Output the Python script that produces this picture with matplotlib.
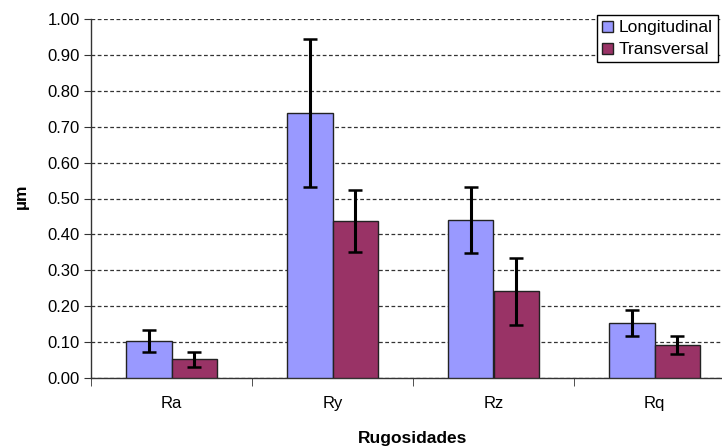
import matplotlib
matplotlib.use("Agg")
import matplotlib.pyplot as plt
import numpy as np

categories = ["Ra", "Ry", "Rz", "Rq"]
longitudinal = [0.103, 0.739, 0.440, 0.152]
longitudinal_err = [0.030, 0.206, 0.092, 0.037]
transversal = [0.051, 0.437, 0.241, 0.090]
transversal_err = [0.022, 0.087, 0.094, 0.025]
yticks = [0.0, 0.1, 0.2, 0.3, 0.4, 0.5, 0.6, 0.7, 0.8, 0.9, 1.0]

plt.rcParams['font.family'] = ['Liberation Sans', 'DejaVu Sans']

W, H = 722, 446
fig = plt.figure(figsize=(W / 100, H / 100), dpi=100)
ax = fig.add_axes([91 / W, (H - 377.7) / H, 644 / W, 358.4 / H])

x = np.arange(len(categories))
bw = 0.285
errkw = dict(ecolor='black', elinewidth=2.2, capsize=5, capthick=1.8)
ax.bar(x - bw / 2, longitudinal, bw, yerr=longitudinal_err, color='#9999FF',
       edgecolor='#222222', linewidth=1, label='Longitudinal', error_kw=errkw, zorder=3)
ax.bar(x + bw / 2, transversal, bw, yerr=transversal_err, color='#993366',
       edgecolor='#222222', linewidth=1, label='Transversal', error_kw=errkw, zorder=3)

ax.set_xlim(-0.5, len(categories) - 0.5)
ax.set_ylim(0, 1.0)
ax.set_yticks(yticks)
ax.set_yticklabels([f"{v:.2f}" for v in yticks], fontsize=12)
ax.set_xticks(x)
ax.set_xticklabels(categories, fontsize=12)
ax.set_xticks(np.arange(len(categories) + 1) - 0.5, minor=True)
ax.tick_params(axis='x', which='major', length=0, pad=13)
ax.tick_params(axis='x', which='minor', length=6, direction='out', color='#333333')
ax.tick_params(axis='y', length=5, direction='out', color='#333333', pad=3)

ax.grid(axis='y', color='#333333', linestyle=(0, (3, 2)), linewidth=0.9, zorder=0)
ax.set_axisbelow(True)
for s in ['top', 'right']:
    ax.spines[s].set_visible(False)
for s in ['left', 'bottom']:
    ax.spines[s].set_color('#333333')
    ax.spines[s].set_linewidth(1)

fig.text(21.5 / W, 1 - 196 / H, 'µm', rotation=90, ha='center', va='center',
         fontsize=12.5, fontweight='bold')
fig.text(413 / W, 1 - 443 / H, 'Rugosidades', ha='center', va='baseline',
         fontsize=12.5, fontweight='bold')

leg = fig.legend(loc='upper right', bbox_to_anchor=(718 / W, 1 - 15 / H), fontsize=12.5,
                 frameon=True, fancybox=False, edgecolor='black', framealpha=1,
                 handlelength=0.6, handleheight=0.6, handletextpad=0.35,
                 borderpad=0.3, labelspacing=0.4, borderaxespad=0)
leg.get_frame().set_linewidth(1)

fig.savefig('out.png', dpi=100)
